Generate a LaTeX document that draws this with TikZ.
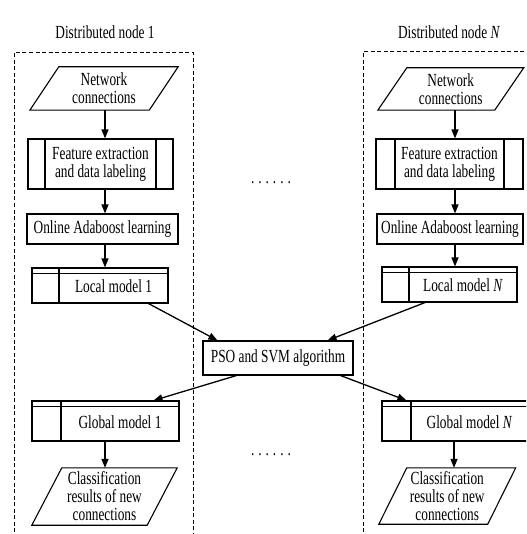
\documentclass[tikz,border=0pt]{standalone}
\usepackage{fontspec}
\setmainfont{Liberation Serif}[FakeStretch=0.72]
\usetikzlibrary{arrows.meta,calc}
\tikzset{
  every node/.style={font=\fontsize{18.5}{18}\selectfont, inner sep=0pt},
  ln/.style={line width=1.1pt, draw=black},
  plainbox/.style={draw=black, line width=1.1pt, rectangle, inner sep=0pt, align=center},
  procbox/.style={plainbox, path picture={
      \draw[line width=1.1pt] ([xshift=#1]path picture bounding box.north west) -- ([xshift=#1]path picture bounding box.south west);
      \draw[line width=1.1pt] ([xshift=-#1]path picture bounding box.north east) -- ([xshift=-#1]path picture bounding box.south east);}},
  storebox/.style={plainbox, text height=15pt, text depth=1pt, path picture={
      \draw[line width=1.1pt] ([yshift=-5.5pt]path picture bounding box.north west) -- ([yshift=-5.5pt]path picture bounding box.north east);
      \draw[line width=1.1pt] ([xshift=#1]path picture bounding box.north west) -- ([xshift=#1]path picture bounding box.south west);}},
  parabox/.style={inner sep=0pt, align=center},
  arr/.style={line width=1.3pt, -{Triangle[length=9pt,width=7pt]}},
  dashedframe/.style={line width=1pt, dash pattern=on 4pt off 2.5pt},
}
\newcommand{\drawpara}[2]{\draw[ln] ([xshift=-#2]#1.south west) -- ([xshift=-#2]#1.south east) -- ([xshift=#2]#1.north east) -- ([xshift=#2]#1.north west) -- cycle;}
\begin{document}
\begin{tikzpicture}[x=1pt,y=-1pt]
\useasboundingbox (0,0) rectangle (526,534);
\clip (0,0) rectangle (526,534);

% frames
\draw[dashedframe] (14,545) -- (14,53) -- (193,53) -- (193,545);
\draw[dashedframe] (363,545) -- (363,52) -- (540,52);

% titles
\node (t1) at (105,32) {Distributed node 1};
\node (tN) at (449,32) {Distributed node \textit{N}};

% column coordinates
\coordinate (c1) at (105,0);
\coordinate (cN) at (455,0);
\coordinate (cNb) at (454,0);

% left column
\node[parabox, minimum width=119pt, minimum height=43pt] (net1) at (104,88.5) {Network\\connections};
\drawpara{net1}{14.5pt}
\node[procbox=17pt, minimum width=145pt, minimum height=50pt] (feat1) at (100.5,164) {Feature extraction\\and data labeling};
\node[plainbox, minimum width=151pt, minimum height=30pt] (online1) at (102.5,229) {Online Adaboost learning};
\node[storebox=27pt, minimum width=136pt, minimum height=35pt] (local1) at (100,285.5) {\hspace*{27pt}Local model 1};
\node[storebox=29pt, minimum width=147pt, minimum height=40pt] (glob1) at (105.5,421) {\hspace*{29pt}Global model 1};
\node[parabox, minimum width=115pt, minimum height=57pt] (cls1) at (104.5,496.5) {Classification\\results of new\\connections};
\drawpara{cls1}{15pt}

% right column
\node[parabox, minimum width=116.5pt, minimum height=42pt] (netN) at (450.75,89) {Network\\connections};
\drawpara{netN}{14.5pt}
\node[procbox=19pt, minimum width=147pt, minimum height=50pt] (featN) at (449.5,164) {Feature extraction\\and data labeling};
\node[plainbox, minimum width=146pt, minimum height=30pt] (onlineN) at (450,229) {Online Adaboost learning};
\node[storebox=27pt, minimum width=135pt, minimum height=35pt] (localN) at (449.5,284.5) {\hspace*{27pt}Local model \textit{N}};
\node[storebox=29pt, minimum width=146pt, minimum height=40pt] (globN) at (455,421) {\hspace*{29pt}Global model \textit{N}};
\node[parabox, minimum width=108.5pt, minimum height=56pt] (clsN) at (447.25,496) {Classification\\results of new\\connections};
\drawpara{clsN}{14pt}

% center
\node[plainbox, minimum width=150pt, minimum height=34pt] (pso) at (278,358) {PSO and SVM algorithm};
\node[anchor=base] (dots1) at (271,184) {.\kern4pt.\kern4pt.\kern4pt.\kern4pt.\kern4pt.};
\node[anchor=base] (dots2) at (271,455) {.\kern4pt.\kern4pt.\kern4pt.\kern4pt.\kern4pt.};

% vertical arrows
\draw[arr] (net1.south -| c1) -- (feat1.north -| c1);
\draw[arr] (feat1.south -| c1) -- (online1.north -| c1);
\draw[arr] (online1.south -| c1) -- (local1.north -| c1);
\draw[arr] (glob1.south -| c1) -- (cls1.north -| c1);
\draw[arr] (netN.south -| cN) -- (featN.north -| cN);
\draw[arr] (featN.south -| cN) -- (onlineN.north -| cN);
\draw[arr] (onlineN.south -| cN) -- (localN.north -| cN);
\draw[arr] (globN.south -| cNb) -- (clsN.north -| cNb);

% diagonal arrows
\draw[arr] ([xshift=-20pt]local1.south east) -- ([xshift=15pt]pso.north west);
\draw[arr] ([xshift=-24.5pt]localN.south) -- ([xshift=-26pt]pso.north east);
\draw[arr] ([xshift=34pt]pso.south west) -- ([xshift=-26pt]glob1.north east);
\draw[arr] ([xshift=-13pt]pso.south east) -- ([xshift=25pt]globN.north west);
\end{tikzpicture}
\end{document}
